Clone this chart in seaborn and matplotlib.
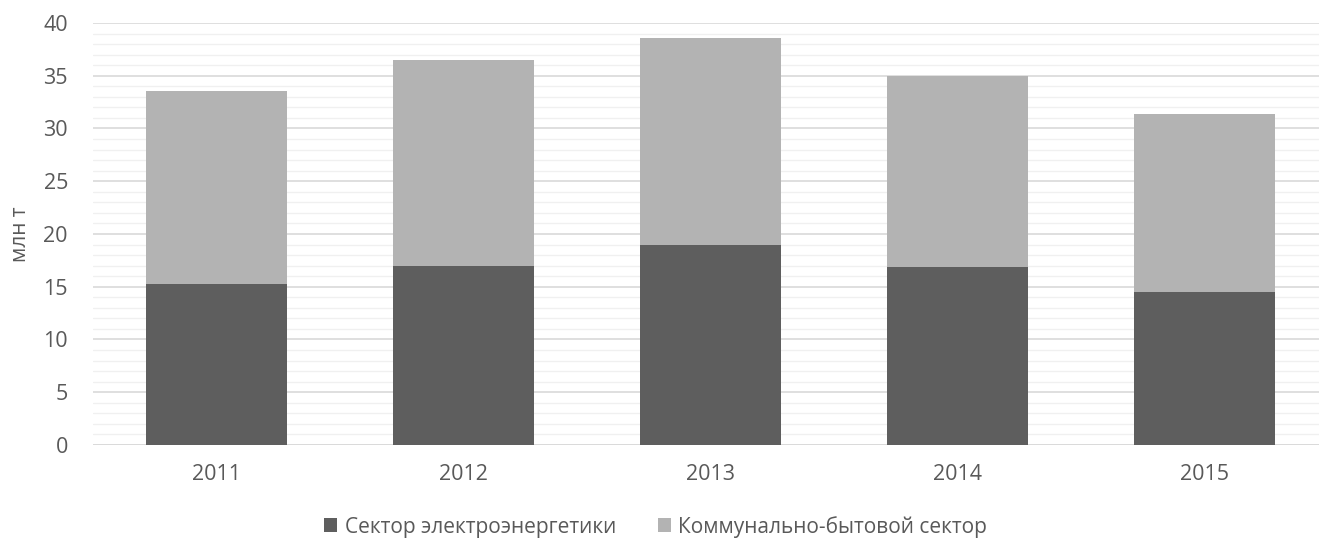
import matplotlib
matplotlib.use("Agg")
import matplotlib.pyplot as plt
from matplotlib.patches import Patch
from matplotlib.ticker import MultipleLocator
import seaborn as sns
import pandas as pd

years = ["2011", "2012", "2013", "2014", "2015"]
power_sector = [15.3, 17.0, 19.0, 16.9, 14.5]
municipal_sector = [18.3, 19.5, 19.6, 18.1, 16.9]
series_names = ["Сектор электроэнергетики", "Коммунально-бытовой сектор"]

dark = "#5e5e5e"
light = "#b3b3b3"
text_col = "#595959"

sns.set_theme(style="white")
plt.rcParams["font.family"] = ["Open Sans", "DejaVu Sans"]

df = pd.DataFrame({
    "year": years,
    "power": power_sector,
    "total": [p + m for p, m in zip(power_sector, municipal_sector)],
})

fig = plt.figure(figsize=(13.19, 5.42), dpi=100)
# plot area runs slightly past the right edge of the canvas
ax = fig.add_axes([0.0705, 0.179, 0.9363, 0.7786])

sns.barplot(data=df, x="year", y="total", color=light, width=0.571,
            saturation=1, ax=ax, zorder=3)
sns.barplot(data=df, x="year", y="power", color=dark, width=0.571,
            saturation=1, ax=ax, zorder=4)
for p in ax.patches:
    p.set_linewidth(0)

ax.set_ylim(0, 40)
ax.set_xlim(-0.5, 4.5)
ax.yaxis.set_major_locator(MultipleLocator(5))
ax.yaxis.set_minor_locator(MultipleLocator(1))
ax.grid(which="major", axis="y", color="#d9d9d9", linewidth=1.2, zorder=0)
ax.grid(which="minor", axis="y", color="#f0f0f0", linewidth=1.0, zorder=0)
ax.set_axisbelow(True)
for s in ax.spines.values():
    s.set_visible(False)
ax.axhline(0, color="#d9d9d9", linewidth=1.2, zorder=2)

ax.set_xlabel("")
ax.set_ylabel("млн т", fontsize=15, color=text_col, labelpad=9)
ax.tick_params(axis="both", which="both", length=0, labelsize=15.5,
               labelcolor=text_col)
ax.tick_params(axis="y", pad=18)
ax.tick_params(axis="x", pad=14)

handles = [Patch(facecolor=dark, edgecolor="none"),
           Patch(facecolor=light, edgecolor="none")]
fig.legend(handles, series_names, loc="center", bbox_to_anchor=(0.497, 0.028),
           ncol=2, frameon=False, fontsize=15, labelcolor=text_col,
           handlelength=0.65, handleheight=0.65, handletextpad=0.35,
           columnspacing=2.0)

fig.savefig("out.png", dpi=100)
